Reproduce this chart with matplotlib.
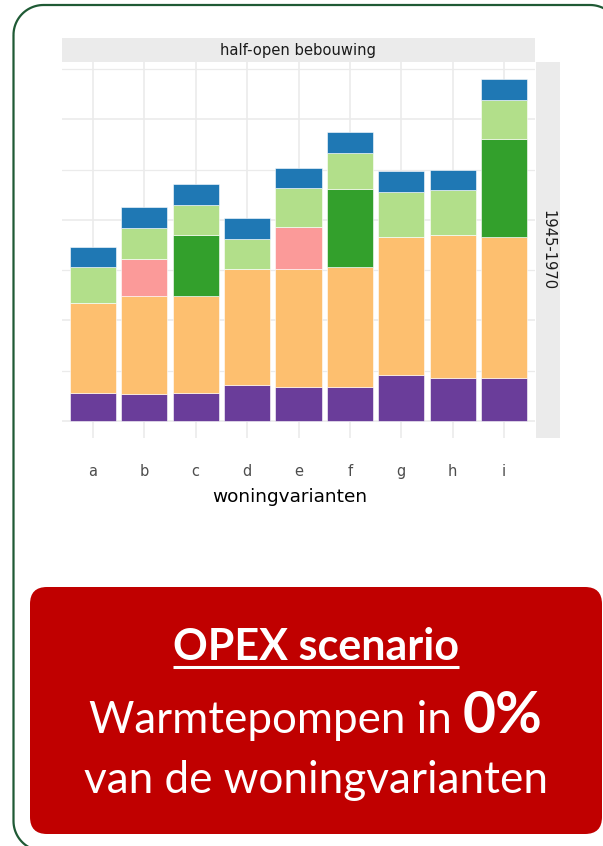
"""Stacked bar panel (half-open bebouwing, 1945-1970) with OPEX scenario banner."""

import matplotlib

matplotlib.use("Agg")
import matplotlib.pyplot as plt
import numpy as np
from matplotlib.patches import FancyBboxPatch, Polygon

W, H = 603, 846

variants = ["a", "b", "c", "d", "e", "f", "g", "h", "i"]

# stacked components, bottom to top (arbitrary units)
purple = [28, 27, 28, 36, 34, 34, 46, 43, 43]
orange = [89, 97, 96, 115, 117, 119, 137, 142, 140]
pink = [0, 37, 0, 0, 42, 0, 0, 0, 0]
dark_green = [0, 0, 61, 0, 0, 78, 0, 0, 97]
light_green = [36, 31, 30, 30, 39, 35, 45, 45, 39]
blue = [20, 21, 21, 21, 20, 21, 21, 20, 21]

layers = [purple, orange, pink, dark_green, light_green, blue]
colors = ["#6a3d9a", "#fdbf6f", "#fb9a99", "#33a02c", "#b2df8a", "#1f78b4"]

facet_col = "half-open bebouwing"
facet_row = "1945-1970"
xlabel = "woningvarianten"


def px_rect(x0, y0, x1, y1):
    """Figure-fraction rect from pixel box (y measured from the top)."""
    return [x0 / W, 1 - y1 / H, (x1 - x0) / W, (y1 - y0) / H]


def rounded_outline(x0, y0, x1, y1, r, n=24):
    """Corner points of a rounded rectangle in a y-down pixel frame."""
    pts = []
    corners = [((x0 + r, y0 + r), 180, 270), ((x1 - r, y0 + r), 270, 360),
               ((x1 - r, y1 - r), 0, 90), ((x0 + r, y1 - r), 90, 180)]
    for (cx, cy), a0, a1 in corners:
        th = np.radians(np.linspace(a0, a1, n))
        pts.extend(zip(cx + r * np.cos(th), cy + r * np.sin(th)))
    return np.array(pts)


fig = plt.figure(figsize=(W / 100, H / 100), dpi=100)

# overlay in pixel units for the frame and the banner
over = fig.add_axes([0, 0, 1, 1])
over.set_xlim(0, W)
over.set_ylim(H, 0)
over.axis("off")
over.patch.set_alpha(0)

frame = Polygon(rounded_outline(13.5, 5, 620, 851, 30), closed=True,
                facecolor="none", edgecolor="#1f5a35", linewidth=1.6)
over.add_patch(frame)
banner = FancyBboxPatch((30, 587), 572, 247, boxstyle="round,pad=0,rounding_size=17",
                        facecolor="#c00000", edgecolor="none")
over.add_patch(banner)

# chart panel
ax = fig.add_axes(px_rect(62, 62, 535, 438))
x = np.arange(len(variants))
bottom = np.zeros(len(variants))
for vals, col in zip(layers, colors):
    vals = np.array(vals, dtype=float)
    ax.bar(x, vals, bottom=bottom, width=0.9, color=col, edgecolor="white",
           linewidth=0.4, zorder=3)
    bottom += vals

top = bottom.max()
ax.set_ylim(-0.05 * top, 1.05 * top)
ax.set_xlim(-0.6, len(variants) - 0.4)
ax.set_yticks([0, 100, 200, 300])
ax.set_yticks([50, 150, 250, 350], minor=True)
ax.set_xticks(x)
ax.set_xticklabels(variants, color="#4d4d4d", fontsize=10.5)
ax.tick_params(axis="x", length=0, pad=19)
ax.tick_params(axis="y", which="both", length=0, labelleft=False)
ax.grid(True, which="major", color="#ebebeb", linewidth=1.2, zorder=0)
ax.grid(True, which="minor", axis="y", color="#ebebeb", linewidth=0.9, zorder=0)
ax.set_axisbelow(True)
for s in ax.spines.values():
    s.set_visible(False)
ax.set_xlabel(xlabel, fontsize=13.3, color="black")
ax.xaxis.label.set_va("baseline")
ax.xaxis.set_label_coords((290 - 62) / 473, (438 - 501.5) / 376)

strip_top = fig.add_axes(px_rect(62, 38, 535, 62))
strip_top.set_facecolor("#ebebeb")
strip_top.set_xticks([])
strip_top.set_yticks([])
for s in strip_top.spines.values():
    s.set_visible(False)
strip_top.text(0.5, 0.5, facet_col, ha="center", va="center", fontsize=10.6,
               color="#1a1a1a", transform=strip_top.transAxes)

strip_right = fig.add_axes(px_rect(536, 62, 560, 438))
strip_right.set_facecolor("#ebebeb")
strip_right.set_xticks([])
strip_right.set_yticks([])
for s in strip_right.spines.values():
    s.set_visible(False)
strip_right.text(0.5, 0.5, facet_row, ha="center", va="center", rotation=270,
                 fontsize=10.6, color="#1a1a1a", transform=strip_right.transAxes)

# banner text
cx = 316
font = "Lato"
t1 = over.text(cx, 660, "OPEX scenario", ha="center", va="baseline", color="white",
               fontsize=31, fontweight="bold", family=font)
fig.canvas.draw()
r = fig.canvas.get_renderer()
inv = over.transData.inverted()
bb = t1.get_window_extent(r)
(ux0, _), (ux1, _) = inv.transform([[bb.x0, bb.y0], [bb.x1, bb.y0]])
over.plot([ux0, ux1], [667, 667], color="white", linewidth=2.2, solid_capstyle="butt")

ta = over.text(0, 733, "Warmtepompen in ", ha="left", va="baseline", color="white",
               fontsize=31.6, family=font)
tb = over.text(0, 733, "0%", ha="left", va="baseline", color="white",
               fontsize=41, fontweight="bold", family=font)
fig.canvas.draw()
wa = ta.get_window_extent(r).width
wb = tb.get_window_extent(r).width
start = cx - (wa + wb) / 2
ta.set_x(start)
tb.set_x(start + wa)

over.text(cx, 793, "van de woningvarianten", ha="center", va="baseline", color="white",
          fontsize=31.8, family=font)

fig.savefig("out.png", dpi=100)
